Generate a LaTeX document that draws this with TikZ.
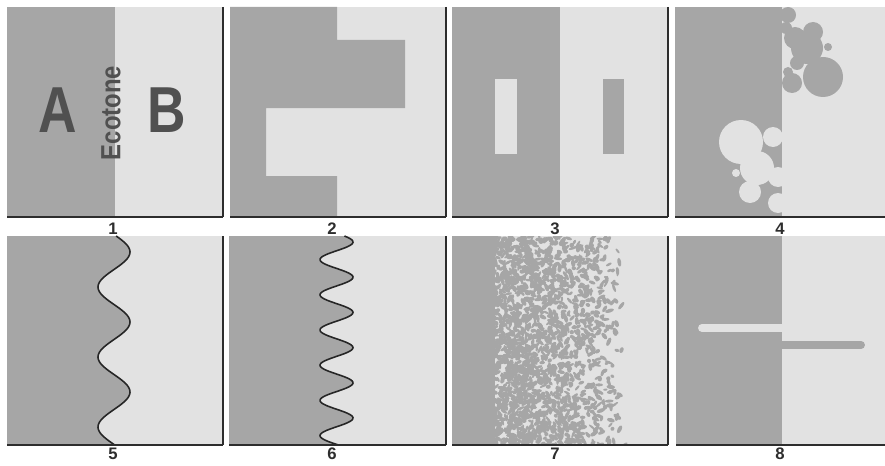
\documentclass[tikz,border=0pt]{standalone}
\usepackage{fontspec}
\setmainfont{Liberation Sans}
\usepackage{tikz}
\definecolor{zonedark}{RGB}{166,166,166}
\definecolor{zonelight}{RGB}{226,226,226}
\definecolor{inkgray}{RGB}{80,80,80}
\definecolor{edgedark}{RGB}{45,45,45}
\tikzset{
  zoneA/.style={fill=zonedark},
  zoneB/.style={fill=zonelight},
  shadowline/.style={draw=edgedark, line width=1.4pt},
  sideline/.style={draw=edgedark, line width=0.8pt},
  wavebound/.style={draw=black!85, line width=0.9pt},
  numlabel/.style={font=\bfseries\fontsize{9.5}{10}\selectfont, text=edgedark, inner sep=0pt},
  biglabel/.style={font=\bfseries\fontsize{37}{37}\selectfont, text=inkgray, inner sep=0pt, xscale=0.82}
}

\begin{document}
\begin{tikzpicture}[x=0.02cm, y=-0.02cm]
  \useasboundingbox (0,0) rectangle (885,466);

  % 1: sharp edge
  \fill[zoneB] (7,7) rectangle (223,217);
  \fill[zoneA] (7,7) rectangle (115,217);
  \node[biglabel] (lblA) at (58,110) {A};
  \node[biglabel] (lblB) at (167,110) {B};
  \node[font=\bfseries\fontsize{15.8}{16}\selectfont, text=inkgray, rotate=90, xscale=0.86, inner sep=0pt] (eco) at (111,113) {Ecotone};

  % 2: large lobes
  \fill[zoneB] (230,7) rectangle (446,217);
  \fill[zoneA] (230,7) -- (337,7) -- (337,40) -- (405,40) -- (405,108) -- (266,108)
    -- (266,176) -- (337,176) -- (337,217) -- (230,217) -- cycle;

  % 3: islands
  \fill[zoneB] (452,7) rectangle (668,217);
  \fill[zoneA] (452,7) rectangle (560,217);
  \fill[zoneB] (495,79) rectangle (517,154);
  \fill[zoneA] (603,79) rectangle (624,154);

  % 4: bubbles
  \begin{scope}
    \clip (675,7) rectangle (885,217);
    \fill[zoneB] (675,7) rectangle (885,217);
    \fill[zoneA] (675,7) rectangle (782,217);
    \foreach \cx/\cy/\r in {788/15/8, 786/28/6, 813/32/10, 807/48/16, 795/38/11, 797/63/7,
        788/72/5, 828/47/4, 823/77/20, 792/83/10}
      \fill[zoneA] (\cx,\cy) circle (\r);
    \foreach \cx/\cy/\r in {741/142/22, 757/168/17, 773/137/10, 736/173/4,
        750/192/11, 778/177/10, 778/203/10}
      \fill[zoneB] (\cx,\cy) circle (\r);
  \end{scope}

  % 5: wide wave
  \fill[zoneB] (7,236) rectangle (223,445);
  \fill[zoneA] (7,236) -- plot[domain=236:445, samples=120, variable=\t]
    ({114+16*sin(5.142857*(\t-234.5))},\t) -- (7,445) -- cycle;
  \draw[wavebound] plot[domain=236:445, samples=120, variable=\t]
    ({114+16*sin(5.142857*(\t-234.5))},\t);

  % 6: tight wave
  \fill[zoneB] (229,236) rectangle (446,445);
  \fill[zoneA] (229,236) -- plot[domain=236:445, samples=200, variable=\t]
    ({336.5+16.5*cos(10.22727*(\t-242))},\t) -- (229,445) -- cycle;
  \draw[wavebound] plot[domain=236:445, samples=200, variable=\t]
    ({336.5+16.5*cos(10.22727*(\t-242))},\t);

  % 7: speckled mosaic
  \begin{scope}
    \clip (452,236) rectangle (668,445);
    \fill[zoneB] (452,236) rectangle (668,445);
    \fill[zoneA] (452,236) rectangle (495,445);
    \pgfmathsetseed{7}
    \foreach \i in {1,...,3200}{
      \pgfmathsetmacro{\bx}{490+136*rnd}
      \pgfmathsetmacro{\by}{236+209*rnd}
      \pgfmathsetmacro{\ba}{180*rnd}
      \pgfmathsetmacro{\brx}{2+2.6*rnd}
      \pgfmathsetmacro{\bry}{1.1+1.2*rnd}
      \pgfmathtruncatemacro{\keep}{rnd > ((\bx-490)/136)^1.6 ? 1 : 0}
      \ifnum\keep=1
        \fill[zonedark, rotate around={\ba:(\bx,\by)}] (\bx,\by) ellipse [x radius=\brx, y radius=\bry];
      \fi
    }
  \end{scope}

  % 8: corridors
  \fill[zoneB] (676,236) rectangle (885,445);
  \fill[zoneA] (676,236) rectangle (782,445);
  \draw[zonelight, line width=4.5pt, line cap=round] (702,328) -- (782,328);
  \draw[zonedark, line width=4.5pt, line cap=round] (782,345) -- (861,345);

  % frames
  \foreach \l/\r/\t/\b in {7/223/7/217, 230/446/7/217, 452/668/7/217, 675/885/7/217,
      7/223/236/445, 229/446/236/445, 452/668/236/445, 676/885/236/445}
    \draw[shadowline] (\l,\b) -- (\r,\b);
  \foreach \r/\t/\b in {223/7/217, 446/7/217, 668/7/217, 223/236/445, 446/236/445, 668/236/445}
    \draw[sideline] (\r,\t) -- (\r,\b);

  % numbers
  \foreach \k/\x/\y in {1/113/229, 2/332/229, 3/555/229, 4/780/229,
      5/113/454, 6/332/454, 7/555/454, 8/780/454}
    \node[numlabel] (n\k) at (\x,\y) {\k};
\end{tikzpicture}
\end{document}
